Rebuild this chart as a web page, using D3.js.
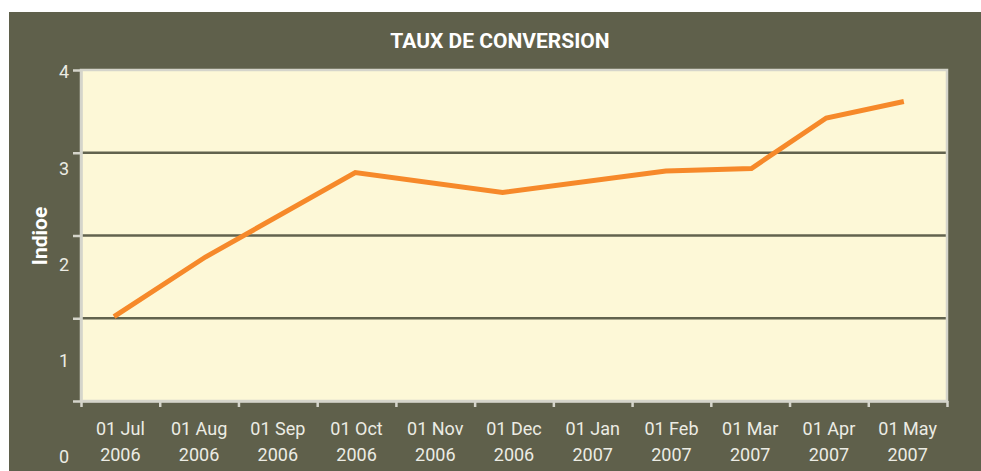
<!DOCTYPE html>
<meta charset="utf-8">
<style>
body { margin: 0; background: #fff; }
text { font-family: Roboto, "Liberation Sans", sans-serif; }
.frame line, .frame path { stroke: #d5d5cb; }
</style>
<svg width="981" height="471"></svg>
<script src="https://d3js.org/d3.v7.min.js"></script>
<script>

var monthLabels = ["01 Jul", "01 Aug", "01 Sep", "01 Oct", "01 Nov", "01 Dec",
                   "01 Jan", "01 Feb", "01 Mar", "01 Apr", "01 May"];
var yearLabels = ["2006", "2006", "2006", "2006", "2006", "2006",
                  "2007", "2007", "2007", "2007", "2007"];
var dates = ["2006-07-14", "2006-08-19", "2006-10-16", "2006-12-12",
             "2007-02-13", "2007-03-17", "2007-04-15", "2007-05-15"];
var values = [1.02, 1.74, 2.76, 2.52, 2.78, 2.81, 3.42, 3.62];
var yTicks = [0, 1, 2, 3, 4];

var svg = d3.select("svg"),
    plotL = 81, plotR = 947, plotT = 70, plotB = 401;

var parseDate = d3.timeParse("%Y-%m-%d");

// position of a date in months, counted from 01 Jul 2006
function monthPos(s) {
  var d = parseDate(s);
  var start = d3.timeMonth.floor(d), next = d3.timeMonth.offset(start, 1);
  var idx = (d.getFullYear() - 2006) * 12 + d.getMonth() - 6;
  return idx + (d - start) / (next - start);
}

var data = dates.map(function(s, i) { return {m: monthPos(s), v: values[i]}; });

var x = d3.scaleLinear().domain([0, monthLabels.length]).range([plotL, plotR]);
var y = d3.scaleLinear().domain([0, 4]).range([plotB, plotT]);
// tick labels are drawn off the grid in the original
var yLab = d3.scaleLinear().domain([0, 4]).range([457, 72]);

svg.append("rect")
    .attr("x", 9).attr("y", 12)
    .attr("width", 981 - 9).attr("height", 471 - 12)
    .attr("fill", "#5f604b");

svg.append("rect")
    .attr("x", plotL).attr("y", plotT)
    .attr("width", plotR - plotL).attr("height", plotB - plotT)
    .attr("fill", "#fdf8d7");

// gridlines
svg.append("g")
  .selectAll("line")
  .data([1, 2, 3])
  .enter().append("line")
    .attr("x1", plotL).attr("x2", plotR)
    .attr("y1", function(d) { return y(d); })
    .attr("y2", function(d) { return y(d); })
    .attr("stroke", "#62634e")
    .attr("stroke-width", 2.5);

// frame
svg.append("rect")
    .attr("x", plotL).attr("y", plotT)
    .attr("width", plotR - plotL).attr("height", plotB - plotT)
    .attr("fill", "none")
    .attr("stroke", "#d5d5cb")
    .attr("stroke-width", 2.5);

var gx = svg.append("g")
    .attr("class", "frame")
    .attr("transform", "translate(0," + plotB + ")")
    .call(d3.axisBottom(x).tickValues(d3.range(monthLabels.length + 1)).tickFormat("").tickSize(6).tickSizeOuter(0));
gx.selectAll("line, path").attr("stroke-width", 2.5);

var gy = svg.append("g")
    .attr("class", "frame")
    .attr("transform", "translate(" + plotL + ",0)")
    .call(d3.axisLeft(y).tickValues(yTicks).tickFormat("").tickSize(8).tickSizeOuter(0));
gy.selectAll("line, path").attr("stroke-width", 2.5);

var xl = svg.append("g")
  .selectAll("text")
  .data(monthLabels)
  .enter().append("text")
    .attr("x", function(d, i) { return x(i + 0.5); })
    .attr("y", 435)
    .attr("text-anchor", "middle")
    .attr("fill", "#ecece4")
    .style("font-size", "18px");
xl.append("tspan")
    .attr("x", function(d, i) { return x(i + 0.5); })
    .text(function(d) { return d; });
xl.append("tspan")
    .attr("x", function(d, i) { return x(i + 0.5); })
    .attr("dy", 26)
    .text(function(d, i) { return yearLabels[i]; });

svg.append("g")
  .selectAll("text")
  .data(yTicks)
  .enter().append("text")
    .attr("x", 69)
    .attr("y", function(d) { return yLab(d); })
    .attr("dy", "0.36em")
    .attr("text-anchor", "end")
    .attr("fill", "#ecece4")
    .style("font-size", "18px")
    .text(function(d) { return d; });

svg.append("text")
    .attr("transform", "translate(47,236) rotate(-90)")
    .attr("text-anchor", "middle")
    .attr("fill", "#fff")
    .style("font-size", "21px")
    .style("font-weight", "bold")
    .text("Indioe");

svg.append("text")
    .attr("x", 500).attr("y", 48)
    .attr("text-anchor", "middle")
    .attr("fill", "#fff")
    .style("font-size", "21px")
    .style("font-weight", "bold")
    .text("TAUX DE CONVERSION");

var line = d3.line()
    .x(function(d) { return x(d.m); })
    .y(function(d) { return y(d.v); });

svg.append("path")
    .datum(data)
    .attr("d", line)
    .attr("fill", "none")
    .attr("stroke", "#f6892a")
    .attr("stroke-width", 5);

</script>
